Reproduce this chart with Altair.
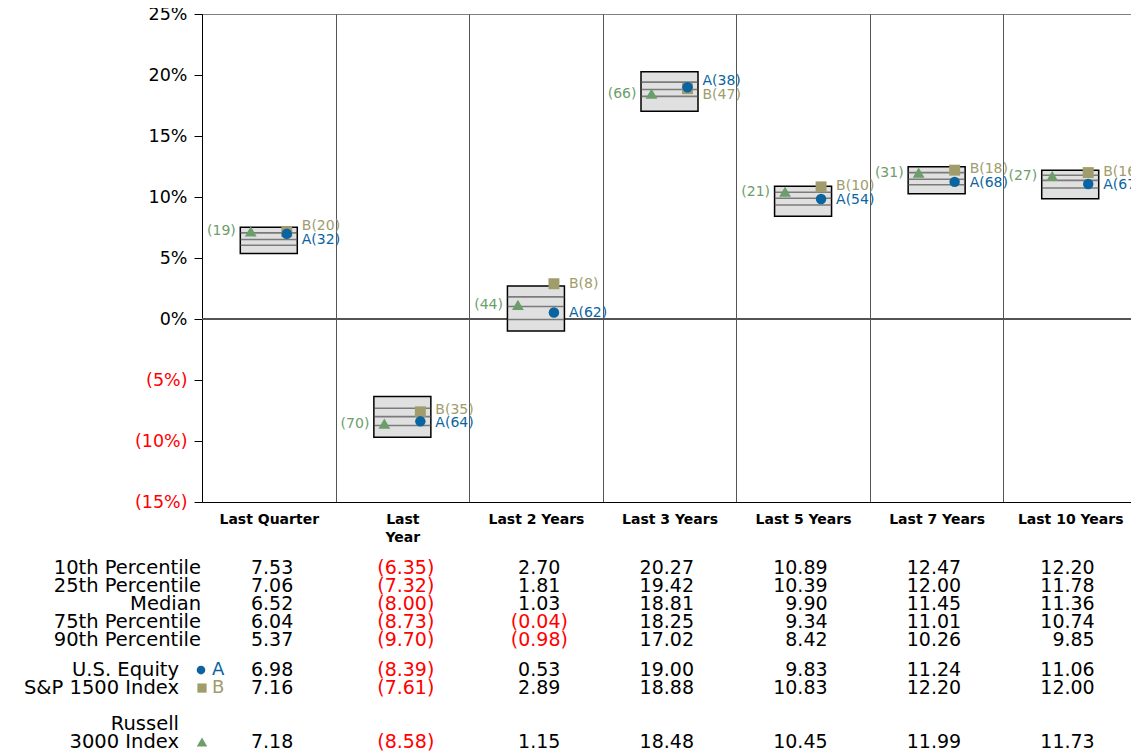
import altair as alt
import pandas as pd

FONT = "DejaVu Sans"

periods = ["Last Quarter", "Last Year", "Last 2 Years", "Last 3 Years",
           "Last 5 Years", "Last 7 Years", "Last 10 Years"]
p10 = [7.53, -6.35, 2.70, 20.27, 10.89, 12.47, 12.20]
p25 = [7.06, -7.32, 1.81, 19.42, 10.39, 12.00, 11.78]
med = [6.52, -8.00, 1.03, 18.81, 9.90, 11.45, 11.36]
p75 = [6.04, -8.73, -0.04, 18.25, 9.34, 11.01, 10.74]
p90 = [5.37, -9.70, -0.98, 17.02, 8.42, 10.26, 9.85]
a_vals = [6.98, -8.39, 0.53, 19.00, 9.83, 11.24, 11.06]
b_vals = [7.16, -7.61, 2.89, 18.88, 10.83, 12.20, 12.00]
r_vals = [7.18, -8.58, 1.15, 18.48, 10.45, 11.99, 11.73]
a_rank = [32, 64, 62, 38, 54, 68, 67]
b_rank = [20, 35, 8, 47, 10, 18, 16]
r_rank = [19, 70, 44, 66, 21, 31, 27]

pct_labels = ["10th Percentile", "25th Percentile", "Median",
              "75th Percentile", "90th Percentile"]
series_labels = ["U.S. Equity", "S&P 1500 Index", "Russell", "3000 Index"]

C_A = "#0a64a0"
C_B = "#a09c6c"
C_R = "#6b9e6b"
C_NEG = "#ff0000"

W_VIEW = 929          # visible plot width (page is 1139 wide)
X_RANGE = 935         # full width of the 7 columns (last one runs off the edge)
H = 488
HALF_BAND = X_RANGE / len(periods) / 2

# ---- label de-overlap for A / B rank labels (derived from the values) ----
GAP = 1.12
la, lb = [], []
for av, bv in zip(a_vals, b_vals):
    if abs(av - bv) < GAP:
        mid = (av + bv) / 2
        if av >= bv:
            la.append(mid + GAP / 2); lb.append(mid - GAP / 2)
        else:
            la.append(mid - GAP / 2); lb.append(mid + GAP / 2)
    else:
        la.append(av); lb.append(bv)

box_df = pd.DataFrame({"period": periods, "p10": p10, "p90": p90})
lines_df = pd.DataFrame({
    "period": periods * 3,
    "v": p25 + med + p75,
})
pts_df = pd.DataFrame({
    "period": periods,
    "a": a_vals, "b": b_vals, "r": r_vals,
    "la": la, "lb": lb,
    "ta": [f"A({x})" for x in a_rank],
    "tb": [f"B({x})" for x in b_rank],
    "tr": [f"({x})" for x in r_rank],
})

# ---- table data ----
table_rows = [
    (0, p10), (1, p25), (2, med), (3, p75), (4, p90),
    (5.67, a_vals), (6.67, b_vals), (9.67, r_vals),
]
tbl = pd.DataFrame([
    {"period": per, "slot": slot, "v": v}
    for slot, vals in table_rows for per, v in zip(periods, vals)
])
pct_df = pd.DataFrame({"label": pct_labels, "slot": [0, 1, 2, 3, 4]})
ser_df = pd.DataFrame({"label": series_labels, "slot": [5.67, 6.67, 8.67, 9.67]})
leg_a = pd.DataFrame({"slot": [5.67], "t": ["A"]})
leg_b = pd.DataFrame({"slot": [6.67], "t": ["B"]})
leg_r = pd.DataFrame({"slot": [9.67]})

# ---- scales / axes ----
xaxis = alt.Axis(
    title=None, labelFont=FONT, labelFontWeight="bold", labelFontSize=14,
    labelColor="black", labelAngle=0, labelBaseline="top",
    labelExpr="datum.label == 'Last Year' ? ['Last', 'Year'] : datum.label",
    labelLineHeight=18, labelPadding=10, ticks=False, grid=True,
    gridColor="#555555", gridWidth=1, tickBand="extent",
    domainColor="black", labelOverlap=False,
)
xs = alt.Scale(type="band", domain=periods, paddingInner=0, paddingOuter=0,
               round=False, range=[0, X_RANGE])
X = alt.X("period:N", sort=periods, scale=xs, axis=xaxis)

yaxis = alt.Axis(
    title=None, values=[-15, -10, -5, 0, 5, 10, 15, 20, 25],
    labelExpr="datum.value < 0 ? '(' + (-datum.value) + '%)' : datum.value + '%'",
    labelColor={"condition": {"test": "datum.value < 0", "value": C_NEG}, "value": "black"},
    labelFont=FONT, labelFontSize=17.5, labelPadding=7, tickSize=8,
    tickColor="black", domainColor="black", grid=False,
)
ys = alt.Scale(domain=[-15, 25], nice=False, zero=False)

def Y(field):
    return alt.Y(field, scale=ys, axis=yaxis)

zero = alt.Chart(box_df).mark_rule(color="#555555", strokeWidth=1.5).encode(
    y=alt.Y(datum=0, scale=ys, axis=yaxis))

box = alt.Chart(box_df).mark_bar(
    width=57, fill="#e0e0e0", stroke="black", strokeWidth=1.5
).encode(x=X, y=Y("p10:Q"), y2="p90:Q")

lines = alt.Chart(lines_df).mark_tick(
    size=57, thickness=1.6, color="#505050"
).encode(x=X, y=Y("v:Q"))

base_pts = alt.Chart(pts_df)
tri = base_pts.mark_point(shape="triangle-up", filled=True, size=140, color=C_R, opacity=1).encode(
    x=X, y=Y("r:Q"), xOffset=alt.value(HALF_BAND - 18))
sqr = base_pts.mark_point(shape="square", filled=True, size=120, color=C_B, opacity=1).encode(
    x=X, y=Y("b:Q"), xOffset=alt.value(HALF_BAND + 18))
cir = base_pts.mark_point(shape="circle", filled=True, size=110, color=C_A, opacity=1).encode(
    x=X, y=Y("a:Q"), xOffset=alt.value(HALF_BAND + 18))

txt_r = base_pts.mark_text(align="right", baseline="middle", dx=-33, font=FONT,
                           fontSize=14, color=C_R).encode(x=X, y=Y("r:Q"), text="tr:N")
txt_b = base_pts.mark_text(align="left", baseline="middle", dx=33, font=FONT,
                           fontSize=14, color=C_B).encode(x=X, y=Y("lb:Q"), text="tb:N")
txt_a = base_pts.mark_text(align="left", baseline="middle", dx=33, font=FONT,
                           fontSize=14, color=C_A).encode(x=X, y=Y("la:Q"), text="ta:N")

main = alt.layer(zero, box, lines, tri, sqr, cir, txt_r, txt_b, txt_a)

# ---- table below the plot ----
ts = alt.Scale(domain=[0, 10], range=[554, 734], nice=False, zero=False)
TY = alt.Y("slot:Q", scale=ts, axis=None)

fmt = "datum.v < 0 ? '(' + format(-datum.v, '.2f') + ')' : format(datum.v, '.2f')"
tbase = alt.Chart(tbl).transform_calculate(txt=fmt)
val_pos = tbase.transform_filter("datum.v >= 0").mark_text(
    align="right", baseline="middle", dx=24.5, font=FONT, fontSize=19, color="black"
).encode(x=X, y=TY, text="txt:N")
val_neg = tbase.transform_filter("datum.v < 0").mark_text(
    align="right", baseline="middle", dx=32, font=FONT, fontSize=19, color=C_NEG
).encode(x=X, y=TY, text="txt:N")

pct_txt = alt.Chart(pct_df).mark_text(
    align="right", baseline="middle", font=FONT, fontSize=19.5, color="black"
).encode(x=alt.value(-1), y=TY, text="label:N")
ser_txt = alt.Chart(ser_df).mark_text(
    align="right", baseline="middle", font=FONT, fontSize=19.5, color="black"
).encode(x=alt.value(-23), y=TY, text="label:N")

lg_a = alt.Chart(leg_a).mark_point(shape="circle", filled=True, size=75, color=C_A, opacity=1).encode(
    x=alt.value(-1), y=TY)
lg_b = alt.Chart(leg_b).mark_point(shape="square", filled=True, size=85, color=C_B, opacity=1).encode(
    x=alt.value(0), y=TY)
lg_r = alt.Chart(leg_r).mark_point(shape="triangle-up", filled=True, size=110, color=C_R, opacity=1).encode(
    x=alt.value(0), y=TY)
lt_a = alt.Chart(leg_a).mark_text(align="left", baseline="middle", font=FONT, fontSize=18,
                                  color=C_A).encode(x=alt.value(10), y=TY, text="t:N")
lt_b = alt.Chart(leg_b).mark_text(align="left", baseline="middle", font=FONT, fontSize=18,
                                  color=C_B).encode(x=alt.value(10), y=TY, text="t:N")

table = alt.layer(val_pos, val_neg, pct_txt, ser_txt, lg_a, lg_b, lg_r, lt_a, lt_b)

chart = alt.layer(main, table).resolve_scale(y="independent").properties(
    width=W_VIEW, height=H,
    autosize=alt.AutoSizeParams(type="none"),
    padding={"left": 194, "top": 6, "right": 0, "bottom": 252},
).configure(font=FONT).configure_view(stroke="#808080", strokeWidth=1)

chart.save("out.html", embed_options={"renderer": "svg", "actions": False})
